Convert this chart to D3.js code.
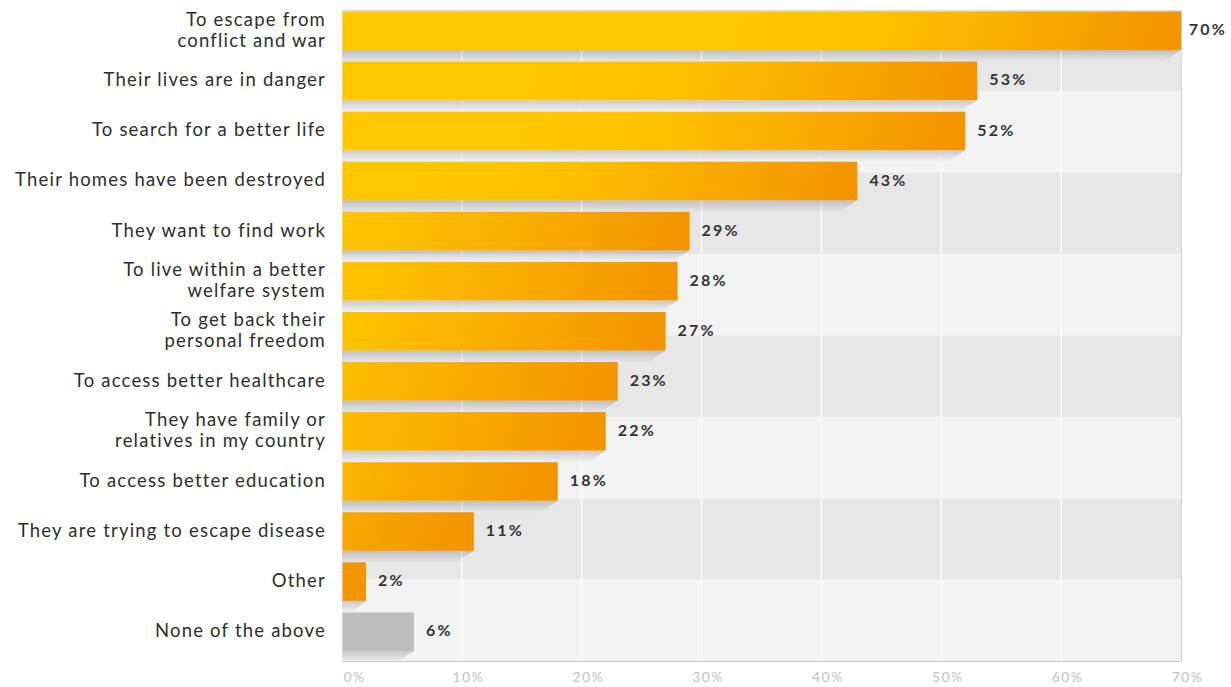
<!DOCTYPE html>
<html>
<head>
<meta charset="utf-8">
<script src="https://cdn.jsdelivr.net/npm/d3@7"></script>
<style>
  html, body { margin: 0; padding: 0; background: #ffffff; }
  svg { display: block; }
  text { font-family: Lato, "Open Sans", sans-serif; }
</style>
</head>
<body>
<svg id="chart" width="1231" height="687"></svg>
<script>
// Reasons people leave their home countries (% of respondents)
const categories = [
  "To escape from\nconflict and war",
  "Their lives are in danger",
  "To search for a better life",
  "Their homes have been destroyed",
  "They want to find work",
  "To live within a better\nwelfare system",
  "To get back their\npersonal freedom",
  "To access better healthcare",
  "They have family or\nrelatives in my country",
  "To access better education",
  "They are trying to escape disease",
  "Other",
  "None of the above"
];
const values = [70, 53, 52, 43, 29, 28, 27, 23, 22, 18, 11, 2, 6];
const neutralCategories = ["None of the above"];
const tickValues = [0, 10, 20, 30, 40, 50, 60, 70];
const tickLabels = ["0%", "10%", "20%", "30%", "40%", "50%", "60%", "70%"];

const W = 1231, H = 687;
const margin = { top: 10, right: 50, bottom: 26, left: 342 };
const innerW = 839, innerH = 651;

const svg = d3.select("#chart");
const defs = svg.append("defs");

const x = d3.scaleLinear().domain([0, 70]).range([margin.left, margin.left + innerW]);
const y = d3.scaleBand().domain(categories).range([margin.top, margin.top + innerH]).padding(0);

// Alternating background bands
const nBands = 8;
const bandH = innerH / nBands;
svg.append("g").selectAll("rect")
  .data(d3.range(nBands))
  .join("rect")
  .attr("x", margin.left)
  .attr("y", i => margin.top + i * bandH)
  .attr("width", innerW)
  .attr("height", bandH)
  .attr("fill", i => i % 2 === 0 ? "#e8e7e8" : "#f3f3f3");

// Vertical grid lines
svg.append("g").selectAll("line")
  .data(tickValues.slice(1, -1))
  .join("line")
  .attr("x1", d => x(d)).attr("x2", d => x(d))
  .attr("y1", margin.top).attr("y2", margin.top + innerH)
  .attr("stroke", "#fafafa")
  .attr("stroke-width", 1.6);

const barOffset = 1.5;
const barH = y.bandwidth() * 0.77;
const rows = categories.map((c, i) => ({ cat: c, value: values[i], i, neutral: neutralCategories.includes(c) }));

// Shadow gradient under each bar
const sg = defs.append("linearGradient").attr("id", "shadowGrad")
  .attr("x1", 0).attr("y1", 0).attr("x2", 0).attr("y2", 1);
sg.append("stop").attr("offset", 0).attr("stop-color", "#000").attr("stop-opacity", 0.17);
sg.append("stop").attr("offset", 1).attr("stop-color", "#000").attr("stop-opacity", 0);

svg.append("g").selectAll("path")
  .data(rows)
  .join("path")
  .attr("d", d => {
    const x0 = x(0), x1 = x(d.value);
    const yb = y(d.cat) + barOffset + barH;
    const sh = 12, slant = Math.min(18, (x1 - x0) * 0.6);
    return `M${x0},${yb}L${x1},${yb}L${x1 - slant},${yb + sh}L${x0},${yb + sh}Z`;
  })
  .attr("fill", "url(#shadowGrad)");

// Per-bar gradients: yellow fading into orange toward the bar end
rows.forEach(d => {
  const x1 = x(d.value);
  const top = y(d.cat) + barOffset;
  const g = defs.append("linearGradient")
    .attr("id", "barGrad" + d.i)
    .attr("gradientUnits", "userSpaceOnUse")
    .attr("x1", x1 - 430).attr("y1", top - 40)
    .attr("x2", x1).attr("y2", top + barH + 40);
  g.append("stop").attr("offset", 0).attr("stop-color", "#ffc800");
  g.append("stop").attr("offset", 0.3).attr("stop-color", "#fec200");
  g.append("stop").attr("offset", 1).attr("stop-color", "#f39100");
});

svg.append("g").selectAll("rect")
  .data(rows)
  .join("rect")
  .attr("x", x(0) + 0.5)
  .attr("y", d => y(d.cat) + barOffset)
  .attr("width", d => x(d.value) - x(0) - 0.5)
  .attr("height", barH)
  .attr("fill", d => d.neutral ? "#bdbdbd" : `url(#barGrad${d.i})`);

// Plot frame
svg.append("line")
  .attr("x1", margin.left).attr("x2", margin.left + innerW)
  .attr("y1", margin.top + 0.5).attr("y2", margin.top + 0.5)
  .attr("stroke", "#dcdcdc");
svg.append("line")
  .attr("x1", margin.left + innerW + 0.5).attr("x2", margin.left + innerW + 0.5)
  .attr("y1", margin.top).attr("y2", margin.top + innerH)
  .attr("stroke", "#d4d4d4");

// Bottom axis
const xAxis = d3.axisBottom(x)
  .tickValues(tickValues)
  .tickFormat((d, i) => tickLabels[i])
  .tickSize(0)
  .tickPadding(11);
const axisG = svg.append("g")
  .attr("transform", `translate(0,${margin.top + innerH})`)
  .call(xAxis);
axisG.select(".domain").attr("stroke", "#c8c8c8");
axisG.selectAll(".tick text")
  .attr("font-family", "Lato, sans-serif")
  .attr("font-size", 14)
  .attr("letter-spacing", 1.4)
  .attr("fill", "#c2c2c2")
  .attr("dx", (d, i) => i === 0 ? 12 : 6);

// Category labels
const labelG = svg.append("g");
rows.forEach(d => {
  const lines = d.cat.split("\n");
  const cy = y(d.cat) + barOffset + barH / 2 - 1;
  const lh = 21;
  const t = labelG.append("text")
    .attr("x", 326)
    .attr("text-anchor", "end")
    .attr("font-size", 18.5)
    .attr("letter-spacing", 1.2)
    .attr("fill", "#2e2e2e");
  lines.forEach((ln, k) => {
    t.append("tspan")
      .attr("x", 326)
      .attr("y", cy + (k - (lines.length - 1) / 2) * lh)
      .attr("dy", "0.35em")
      .text(ln);
  });
});

// Value labels
svg.append("g").selectAll("text")
  .data(rows)
  .join("text")
  .attr("y", d => y(d.cat) + barOffset + barH / 2 - 1)
  .attr("dy", "0.35em")
  .attr("font-size", 16)
  .attr("font-weight", "bold")
  .attr("letter-spacing", 2.2)
  .attr("fill", "#333")
  .text(d => d.value + "%")
  .attr("x", function(d) {
    const len = this.getComputedTextLength();
    return Math.min(x(d.value) + 12, W - len - 4);
  });
</script>
</body>
</html>
